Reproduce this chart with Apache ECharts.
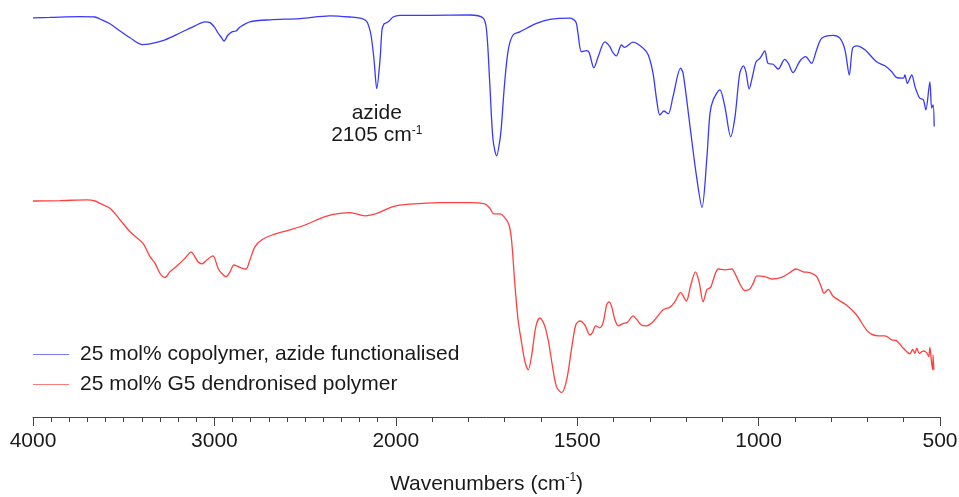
<!DOCTYPE html>
<html>
<head>
<meta charset="utf-8">
<script src="https://cdn.jsdelivr.net/npm/echarts@6/dist/echarts.min.js"></script>
<style>
  html, body { margin: 0; padding: 0; background: #fff; }
  #chart { width: 959px; height: 497px; }
</style>
</head>
<body>
<div id="chart"></div>
<script>
// FTIR spectra: azide-functionalised copolymer (top) and G5 dendronised polymer (bottom)
const blueWn = [
  4000, 3906, 3741, 3658, 3631, 3576, 3520, 3465, 3399, 3355,
  3272, 3190, 3107, 3052, 3024, 2997, 2980, 2963, 2947, 2925,
  2903, 2881, 2859, 2804, 2693, 2528, 2363, 2252, 2186, 2159,
  2137, 2120, 2105, 2087, 2076, 2065, 2054, 2037, 2015, 1989,
  1906, 1796, 1760, 1750, 1741, 1732, 1722, 1713, 1709, 1700,
  1690, 1677, 1658, 1612, 1575, 1520, 1504, 1498, 1488, 1474,
  1467, 1454, 1442, 1424, 1410, 1403, 1392, 1378, 1369, 1346,
  1318, 1304, 1291, 1281, 1272, 1261, 1249, 1236, 1215, 1208,
  1189, 1171, 1156, 1143, 1134, 1125, 1107, 1093, 1077, 1065,
  1052, 1042, 1035, 1026, 1017, 1007, 996, 983, 974, 960,
  946, 928, 918, 905, 886, 870, 863, 854, 840, 826,
  794, 776, 762, 750, 741, 730, 707, 675, 652, 633,
  620, 601, 597, 590, 578, 569, 564, 556, 546, 539,
  528, 523, 519, 516
];
const blueT = [
  99.8, 99.9, 100.1, 100, 99.5, 98.3, 96.5, 94.8, 93.1, 93.3,
  94.3, 96, 97.8, 98.8, 98.6, 97.3, 96, 95, 94, 95.5,
  96.3, 96.5, 97.5, 98.8, 99.3, 99.6, 100.3, 100, 99.6, 98.8,
  95.5, 89.3, 82.1, 89.3, 96.8, 98.3, 98.5, 99, 100, 100.4,
  100.4, 100.5, 99.8, 96.8, 83.4, 69.3, 65.3, 69.3, 72.6, 83.5,
  91.8, 95.5, 96.3, 98.4, 99.4, 99.7, 98.8, 96, 91.3, 91.6,
  91.1, 87.3, 90.1, 93.8, 92.6, 91.3, 90.3, 93, 92.4, 93.7,
  92.2, 90.5, 85.9, 79.3, 75.5, 76.5, 75.8, 80.1, 87.2, 85.9,
  72.6, 60.1, 52.4, 64.3, 75.9, 79.3, 81.8, 77.6, 70.1, 75.1,
  85.9, 87.8, 86.3, 82, 85.1, 88.8, 89.7, 91.5, 88.4, 88.2,
  87, 89.4, 88.4, 86.1, 89, 90.1, 89.4, 88.4, 91.8, 94.7,
  95.4, 94.7, 91.8, 85.5, 92.2, 92.8, 91.8, 88.8, 87.8, 86.3,
  84.9, 84.7, 85.5, 83.4, 85.5, 82.6, 81.3, 79.7, 79.3, 76.8,
  83.8, 77.2, 78, 72.6
];

const redWn = [
  4000, 3851, 3702, 3658, 3631, 3576, 3520, 3465, 3394, 3355,
  3327, 3300, 3272, 3245, 3201, 3162, 3129, 3090, 3068, 3041,
  3008, 2980, 2958, 2936, 2914, 2892, 2853, 2826, 2804, 2776,
  2738, 2682, 2583, 2500, 2390, 2308, 2252, 2170, 2104, 2015,
  1961, 1879, 1796, 1755, 1741, 1730, 1713, 1700, 1688, 1681,
  1672, 1663, 1653, 1644, 1635, 1626, 1614, 1603, 1592, 1580,
  1568, 1557, 1543, 1529, 1516, 1504, 1493, 1479, 1465, 1458,
  1449, 1438, 1428, 1419, 1412, 1405, 1396, 1387, 1373, 1362,
  1346, 1336, 1323, 1309, 1291, 1263, 1245, 1231, 1215, 1199,
  1188, 1174, 1164, 1153, 1142, 1132, 1125, 1111, 1093, 1074,
  1061, 1050, 1038, 1024, 1015, 1004, 983, 964, 937, 914,
  897, 877, 859, 840, 826, 820, 808, 794, 758, 730,
  698, 670, 652, 633, 620, 601, 583, 575, 569, 564,
  557, 546, 537, 531, 528, 523, 520, 519, 517
];
const redT = [
  54, 54.1, 54.3, 54, 53.4, 52.2, 49.3, 46.3, 43.4, 40.1,
  38.4, 35.9, 34.9, 36.3, 38, 39.7, 41.2, 38.8, 38.3, 39.3,
  40.3, 37.2, 35.8, 35.1, 36.3, 38, 37.3, 37, 39.3, 42.6,
  44.3, 45.5, 46.8, 48, 50.1, 50.9, 51.1, 50.3, 50.9, 52.6,
  53.2, 53.6, 53.6, 53.3, 52.2, 50.8, 50.8, 49.9, 48, 44.3,
  33.4, 24.3, 18.4, 13.8, 11.8, 15.1, 22.6, 24.8, 23.4, 19.3,
  12.6, 7.6, 6.1, 9.3, 16.8, 23, 24, 23, 20.5, 21.1,
  22.8, 22.3, 23.8, 28, 28.8, 27.6, 24.3, 22.8, 23.4, 23.6,
  25.3, 24.4, 23, 22.8, 23.8, 26.8, 27.4, 28.8, 31.1, 29,
  32.6, 36.3, 33.8, 28.8, 31.9, 32.4, 34.3, 37, 36.8, 37,
  35.1, 33, 31.6, 32, 33.4, 35.3, 35.1, 34.5, 34.9, 36.1,
  37, 36.3, 36.1, 35.1, 32.2, 30.9, 31.9, 30.1, 28, 25.5,
  21.3, 20.3, 20.3, 19.3, 19.1, 17.2, 15.8, 16.9, 15.9, 17.2,
  15.9, 16.5, 16.1, 15.1, 17.4, 13.4, 11.8, 15.5, 11.8
];

const majorTicks = [4000, 3000, 2000, 1500, 1000, 500];
const minorTicks = [];
for (let w = 4000; w >= 500; w -= 100) minorTicks.push(w);

const seriesNames = ['25 mol% copolymer, azide functionalised', '25 mol% G5 dendronised polymer'];
const seriesColors = ['#3838ff', '#ff4040'];
const keyColors = ['#7a7aff', '#ff7a7a'];
const azidePeak = 2105;

// The wavenumber axis is drawn at half scale above 2000 cm-1
function toAxis(w) { return w >= 2000 ? (4000 - w) / 2 : 1000 + (2000 - w); }
function fromAxis(t) { return t <= 1000 ? 4000 - 2 * t : 2000 - (t - 1000); }

const FONT = 'Liberation Sans, Arial, sans-serif';
const TEXT = '#1a1a1a';

// Key in the lower-left corner: a short line swatch and the series name per row
const keyItems = [];
seriesNames.forEach((name, i) => {
  const y = 354 + i * 30;
  keyItems.push({
    type: 'line',
    shape: { x1: 33, y1: y + 0.5, x2: 69, y2: y + 0.5 },
    style: { stroke: keyColors[i], lineWidth: 1.2 },
    silent: true
  });
  keyItems.push({
    type: 'text',
    x: 80,
    y: y,
    style: { text: name, fill: TEXT, font: '21px ' + FONT, textVerticalAlign: 'middle', verticalAlign: 'middle' },
    silent: true
  });
});

const chart = echarts.init(document.getElementById('chart'), null, { renderer: 'canvas' });

chart.setOption({
  animation: false,
  backgroundColor: '#ffffff',
  textStyle: { fontFamily: FONT },
  grid: { left: 33, right: 19, top: 9, bottom: 80, outerBoundsMode: 'none' },
  graphic: { elements: keyItems },
  xAxis: [
    {
      type: 'value',
      position: 'bottom',
      min: 0,
      max: 2500,
      interval: 500,
      splitLine: { show: false },
      axisLine: { show: true, lineStyle: { color: '#444', width: 1 } },
      axisTick: { show: true, length: 9, lineStyle: { color: '#444', width: 1 } },
      axisLabel: {
        show: true,
        margin: 14,
        fontSize: 21,
        color: TEXT,
        fontFamily: FONT,
        customValues: majorTicks.map(toAxis),
        formatter: function (v) { return String(Math.round(fromAxis(v))); }
      },
      name: '{m|Wavenumbers (cm}{s|-1}{m|)}',
      nameLocation: 'middle',
      nameGap: 55,
      nameTextStyle: {
        rich: {
          m: { fontSize: 21, color: TEXT, fontFamily: FONT, lineHeight: 24 },
          s: { fontSize: 12, color: TEXT, fontFamily: FONT, lineHeight: 14, verticalAlign: 'top' }
        }
      }
    },
    {
      type: 'value',
      position: 'bottom',
      min: 0,
      max: 2500,
      interval: 500,
      splitLine: { show: false },
      axisLine: { show: false },
      axisLabel: { show: false },
      axisTick: {
        show: true,
        length: 5,
        customValues: minorTicks.map(toAxis),
        lineStyle: { color: '#444', width: 1 }
      }
    }
  ],
  yAxis: {
    type: 'value',
    min: 0,
    max: 102,
    show: false,
    splitLine: { show: false }
  },
  series: [
    {
      name: seriesNames[0],
      type: 'line',
      xAxisIndex: 0,
      showSymbol: false,
      symbol: 'none',
      smooth: 0.3,
      color: seriesColors[0],
      lineStyle: { color: seriesColors[0], width: 1.3 },
      data: blueWn.map((w, i) => [toAxis(w), blueT[i]]),
      markPoint: {
        symbol: 'circle',
        symbolSize: 0,
        silent: true,
        data: [{ coord: [toAxis(azidePeak), 73.2] }],
        label: {
          show: true,
          position: 'inside',
          formatter: '{m|azide}\n{m|' + azidePeak + ' cm}{s|-1}',
          rich: {
            m: { fontSize: 21, color: TEXT, fontFamily: FONT, lineHeight: 22, align: 'center' },
            s: { fontSize: 12, color: TEXT, fontFamily: FONT, lineHeight: 13, verticalAlign: 'top' }
          }
        }
      }
    },
    {
      name: seriesNames[1],
      type: 'line',
      xAxisIndex: 0,
      showSymbol: false,
      symbol: 'none',
      smooth: 0.3,
      color: seriesColors[1],
      lineStyle: { color: seriesColors[1], width: 1.3 },
      data: redWn.map((w, i) => [toAxis(w), redT[i]])
    }
  ]
});
</script>
</body>
</html>
